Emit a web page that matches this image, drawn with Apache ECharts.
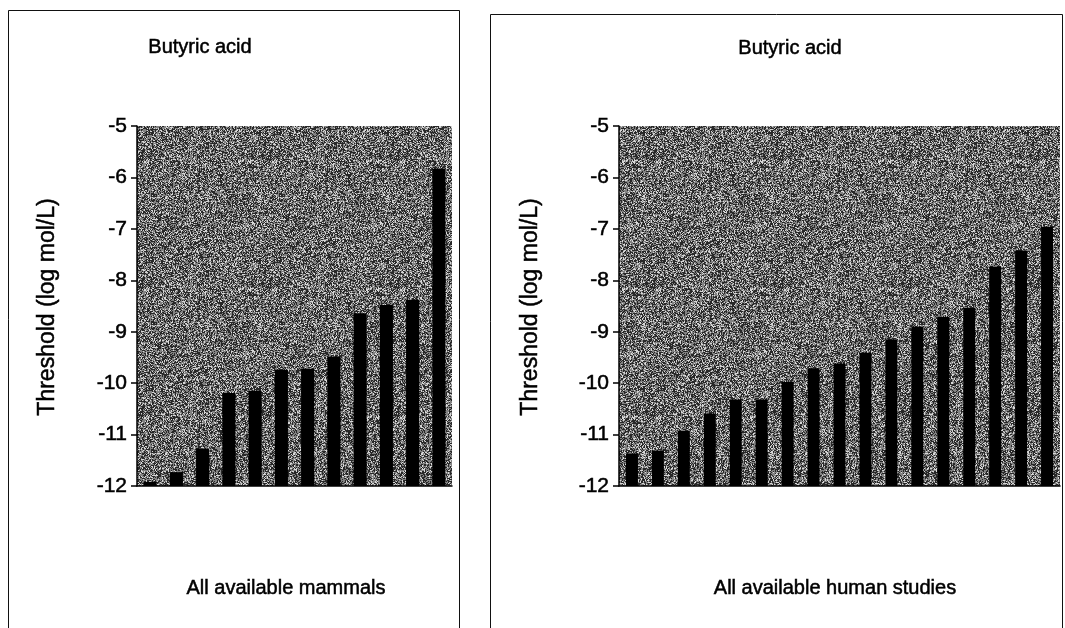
<!DOCTYPE html>
<html>
<head>
<meta charset="utf-8">
<script src="https://cdn.jsdelivr.net/npm/echarts@6/dist/echarts.min.js"></script>
<style>
html,body{margin:0;padding:0;background:#fff;}
#chart{width:1065px;height:628px;}
</style>
</head>
<body>
<div id="chart"></div>
<script>
// ---- data ----
const titleText = 'Butyric acid';
const yAxisTitle = 'Threshold (log mol/L)';
const mammalsLabel = 'All available mammals';
const humansLabel = 'All available human studies';
const yTicks = [-12, -11, -10, -9, -8, -7, -6, -5];
const mammalsValues = [-11.92, -11.73, -11.27, -10.19, -10.15, -9.74, -9.72, -9.48, -8.64, -8.48, -8.38, -5.83];
const humansValues = [-11.37, -11.31, -10.93, -10.59, -10.32, -10.32, -9.98, -9.71, -9.62, -9.41, -9.15, -8.90, -8.71, -8.54, -7.73, -7.42, -6.96];

// ---- helpers ----
const axisMin = yTicks[0];
const axisMax = yTicks[yTicks.length - 1];
const mammalsCats = mammalsValues.map((_, i) => 'M' + (i + 1));
const humansCats = humansValues.map((_, i) => 'H' + (i + 1));
// bars rise from the bottom of the axis (-12): store height above the axis floor
const fromFloor = arr => arr.map(v => +(v - axisMin).toFixed(4));

// speckled grey texture for the plot backgrounds (deterministic hash, purely decorative)
function makeTexture() {
  const n = 128;
  const c = document.createElement('canvas');
  c.width = n; c.height = n;
  const ctx = c.getContext('2d');
  const img = ctx.createImageData(n, n);
  for (let y = 0; y < n; y++) {
    for (let x = 0; x < n; x++) {
      let h = (x * 374761393 + y * 668265263) | 0;
      h = Math.imul(h ^ (h >>> 13), 1274126177);
      h = (h ^ (h >>> 16)) >>> 0;
      const f = h / 4294967296;
      const g = f < 0.42 ? 40 : (f < 0.82 ? 130 : 215);
      const k = (y * n + x) * 4;
      img.data[k] = g; img.data[k + 1] = g; img.data[k + 2] = g; img.data[k + 3] = 255;
    }
  }
  ctx.putImageData(img, 0, 0);
  return c;
}
const texture = { image: makeTexture(), repeat: 'repeat' };

const FONT = "'Liberation Sans', Arial, sans-serif";
const textStyleBase = { fontFamily: FONT, fontSize: 20, fill: '#000', stroke: '#000', lineWidth: 0.5 };

const chart = echarts.init(document.getElementById('chart'), null, { renderer: 'canvas' });

const grids = [
  { left: 137, top: 126, width: 315, height: 360 },
  { left: 619, top: 126, width: 441, height: 360 }
];

function yAxisFor(gi) {
  return {
    type: 'value', gridIndex: gi,
    min: 0, max: axisMax - axisMin, interval: 1,
    axisLine: { show: true, lineStyle: { color: '#000', width: 1.5 } },
    axisTick: { show: true, length: 6, lineStyle: { color: '#000', width: 1.5 } },
    splitLine: { show: false },
    axisLabel: {
      color: '#000', fontFamily: FONT, fontSize: 21, margin: 10,
      textBorderColor: '#000', textBorderWidth: 0.5,
      formatter: v => String(Math.round(v + axisMin))
    }
  };
}
function xAxisFor(gi, cats) {
  return {
    type: 'category', gridIndex: gi, data: cats,
    axisLine: { show: true, onZero: false, lineStyle: { color: '#000', width: 1.5 } },
    axisTick: { show: false },
    axisLabel: { show: false },
    splitLine: { show: false }
  };
}

const t = (txt, x, y, extra, rot) => ({
  type: 'text', x: x, y: y, rotation: rot || 0,
  style: Object.assign({ text: txt, textAlign: 'center', textVerticalAlign: 'middle' }, textStyleBase, extra || {})
});

chart.setOption({
  animation: false,
  backgroundColor: '#fff',
  grid: grids.map(g => Object.assign({ show: true, backgroundColor: texture, borderWidth: 0, containLabel: false }, g)),
  xAxis: [xAxisFor(0, mammalsCats), xAxisFor(1, humansCats)],
  yAxis: [yAxisFor(0), yAxisFor(1)],
  series: [
    { type: 'bar', xAxisIndex: 0, yAxisIndex: 0, data: fromFloor(mammalsValues), barWidth: '50%', itemStyle: { color: '#000' } },
    { type: 'bar', xAxisIndex: 1, yAxisIndex: 1, data: fromFloor(humansValues), barWidth: '46%', itemStyle: { color: '#000' } }
  ],
  graphic: [
    { type: 'rect', shape: { x: 8.5, y: 10.5, width: 451, height: 660 }, style: { fill: 'none', stroke: '#111', lineWidth: 1 } },
    { type: 'rect', shape: { x: 490.5, y: 14.5, width: 572, height: 660 }, style: { fill: 'none', stroke: '#111', lineWidth: 1 } },
    t(titleText, 200, 47),
    t(titleText, 790, 48),
    t(yAxisTitle, 48, 307, { fontSize: 23 }, Math.PI / 2),
    t(yAxisTitle, 531, 307, { fontSize: 23 }, Math.PI / 2),
    t(mammalsLabel, 286, 588),
    t(humansLabel, 835, 588)
  ]
});
</script>
</body>
</html>
